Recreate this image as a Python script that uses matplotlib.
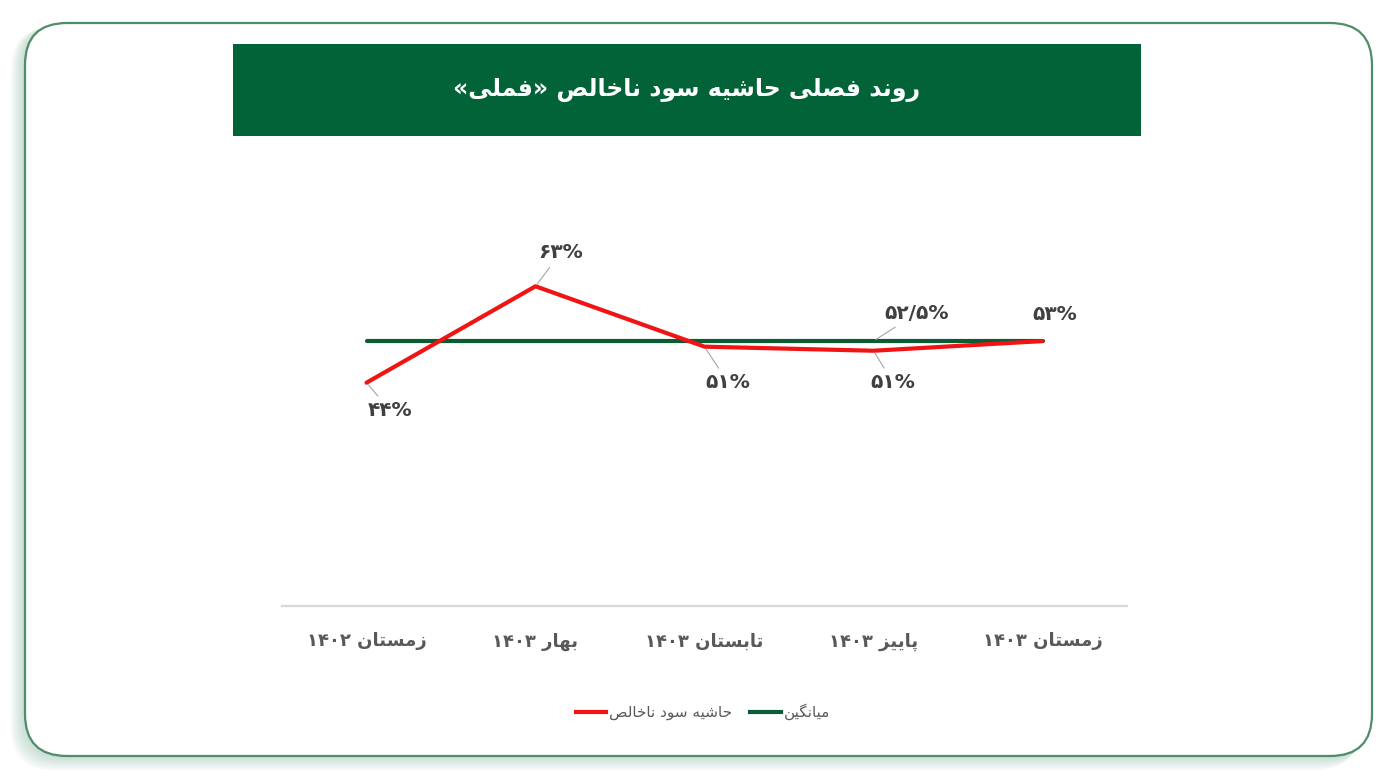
import re
import matplotlib
matplotlib.use("Agg")
import matplotlib.pyplot as plt
from matplotlib.patches import FancyBboxPatch, Rectangle
from matplotlib.lines import Line2D

# ---------------- data ----------------
categories = ["زمستان ۱۴۰۲", "بهار ۱۴۰۳", "تابستان ۱۴۰۳", "پاییز ۱۴۰۳", "زمستان ۱۴۰۳"]
margin_values = [44.0, 63.0, 51.1, 50.3, 52.2]
margin_labels = ["۴۴%", "۶۳%", "۵۱%", "۵۱%", "۵۳%"]
average_values = [52.2, 52.2, 52.2, 52.2, 52.2]
average_label = "۵۲/۵%"
average_label_index = 3
title_text = "روند فصلی حاشیه سود ناخالص «فملی»"
series_names = ["حاشیه سود ناخالص", "میانگین"]

# ---------------- minimal Persian shaping / bidi ----------------
FORMS = {
    'ا': ('\uFE8D', '\uFE8E', None, None),
    'ب': ('\uFE8F', '\uFE90', '\uFE91', '\uFE92'),
    'پ': ('\uFB56', '\uFB57', '\uFB58', '\uFB59'),
    'ت': ('\uFE95', '\uFE96', '\uFE97', '\uFE98'),
    'ث': ('\uFE99', '\uFE9A', '\uFE9B', '\uFE9C'),
    'ج': ('\uFE9D', '\uFE9E', '\uFE9F', '\uFEA0'),
    'چ': ('\uFB7A', '\uFB7B', '\uFB7C', '\uFB7D'),
    'ح': ('\uFEA1', '\uFEA2', '\uFEA3', '\uFEA4'),
    'خ': ('\uFEA5', '\uFEA6', '\uFEA7', '\uFEA8'),
    'د': ('\uFEA9', '\uFEAA', None, None),
    'ذ': ('\uFEAB', '\uFEAC', None, None),
    'ر': ('\uFEAD', '\uFEAE', None, None),
    'ز': ('\uFEAF', '\uFEB0', None, None),
    'ژ': ('\uFB8A', '\uFB8B', None, None),
    'س': ('\uFEB1', '\uFEB2', '\uFEB3', '\uFEB4'),
    'ش': ('\uFEB5', '\uFEB6', '\uFEB7', '\uFEB8'),
    'ص': ('\uFEB9', '\uFEBA', '\uFEBB', '\uFEBC'),
    'ض': ('\uFEBD', '\uFEBE', '\uFEBF', '\uFEC0'),
    'ط': ('\uFEC1', '\uFEC2', '\uFEC3', '\uFEC4'),
    'ظ': ('\uFEC5', '\uFEC6', '\uFEC7', '\uFEC8'),
    'ع': ('\uFEC9', '\uFECA', '\uFECB', '\uFECC'),
    'غ': ('\uFECD', '\uFECE', '\uFECF', '\uFED0'),
    'ف': ('\uFED1', '\uFED2', '\uFED3', '\uFED4'),
    'ق': ('\uFED5', '\uFED6', '\uFED7', '\uFED8'),
    'ک': ('\uFB8E', '\uFB8F', '\uFB90', '\uFB91'),
    'گ': ('\uFB92', '\uFB93', '\uFB94', '\uFB95'),
    'ل': ('\uFEDD', '\uFEDE', '\uFEDF', '\uFEE0'),
    'م': ('\uFEE1', '\uFEE2', '\uFEE3', '\uFEE4'),
    'ن': ('\uFEE5', '\uFEE6', '\uFEE7', '\uFEE8'),
    'و': ('\uFEED', '\uFEEE', None, None),
    'ه': ('\uFEE9', '\uFEEA', '\uFEEB', '\uFEEC'),
    'ی': ('\uFBFC', '\uFBFD', '\uFBFE', '\uFBFF'),
}
MIRROR = {'«': '»', '»': '«', '(': ')', ')': '('}


def shape_word(w):
    out = []
    n = len(w)
    for i, c in enumerate(w):
        if c not in FORMS:
            out.append(c)
            continue
        prev = w[i - 1] if i > 0 else None
        nxt = w[i + 1] if i < n - 1 else None
        jp = prev in FORMS and FORMS[prev][2] is not None
        jn = FORMS[c][2] is not None and nxt in FORMS
        iso, fin, ini, med = FORMS[c]
        if jp and jn:
            out.append(med)
        elif jp:
            out.append(fin)
        elif jn:
            out.append(ini)
        else:
            out.append(iso)
    return ''.join(out)


def rtl(s):
    runs = []
    i = 0
    while i < len(s):
        c = s[i]
        if c in FORMS:
            j = i
            while j < len(s) and s[j] in FORMS:
                j += 1
            runs.append(shape_word(s[i:j])[::-1])
            i = j
        elif re.match(r'[0-9\u06F0-\u06F9%/.]', c):
            j = i
            while j < len(s) and re.match(r'[0-9\u06F0-\u06F9%/.]', s[j]):
                j += 1
            runs.append(s[i:j])
            i = j
        else:
            runs.append(MIRROR.get(c, c))
            i += 1
    return ''.join(runs[::-1])


plt.rcParams['font.family'] = ['DejaVu Sans']

W, H = 1400, 781
fig = plt.figure(figsize=(W / 100, H / 100), dpi=100)
fig.patch.set_facecolor('white')

# ---------------- background frame ----------------
bg = fig.add_axes([0, 0, 1, 1])
bg.set_xlim(0, W)
bg.set_ylim(H, 0)
bg.axis('off')

for k in range(16, 0, -1):
    sh = FancyBboxPatch((25 - k * 0.9, 23 + k * 0.3), 1347, 733 + k * 0.6,
                        boxstyle="round,pad=0,rounding_size=42",
                        facecolor='#86bba6', edgecolor='none', alpha=0.03,
                        transform=bg.transData, zorder=1)
    bg.add_patch(sh)

frame = FancyBboxPatch((25, 23), 1347, 733,
                       boxstyle="round,pad=0,rounding_size=42",
                       facecolor='white', edgecolor='#4f8d69', linewidth=1.6,
                       transform=bg.transData, zorder=2)
bg.add_patch(frame)

banner = Rectangle((233, 44), 908, 92, facecolor='#036338', edgecolor='none', zorder=3)
bg.add_patch(banner)
bg.text(687, 90, rtl(title_text), color='white', fontsize=17, fontweight='bold',
        ha='center', va='center', zorder=4)

# ---------------- chart ----------------
ax = fig.add_axes([282 / W, 1 - 606 / H, (1127 - 282) / W, (606 - 200) / H])
ax.set_facecolor('none')
x = list(range(len(categories)))
red = '#f01414'
green = '#0b5c32'
ax.plot(x, average_values, color=green, lw=3, solid_capstyle='round', zorder=3)
ax.plot(x, margin_values, color=red, lw=3, solid_capstyle='round', zorder=4)
ax.set_xlim(-0.5, len(categories) - 0.5)
ax.set_ylim(0, 80)
ax.set_yticks([])
for s in ['top', 'right', 'left']:
    ax.spines[s].set_visible(False)
ax.spines['bottom'].set_color('#d9d9d9')
ax.spines['bottom'].set_linewidth(1.6)
ax.set_xticks(x)
ax.set_xticklabels([rtl(c) for c in categories], fontsize=13, fontweight='bold', color='#595959')
ax.tick_params(axis='x', length=0, pad=19)

lab_color = '#404040'
offsets = [(17, -20), (18, 24), (17, -26), (14, -23), (9, 19)]
leaders = [True, True, True, True, False]
for i, (v, lab) in enumerate(zip(margin_values, margin_labels)):
    ax.annotate(lab, xy=(x[i], v), xytext=offsets[i], textcoords='offset points',
                ha='center', va='center', fontsize=14.5, fontweight='bold', color=lab_color,
                arrowprops=dict(arrowstyle='-', color='#a6a6a6', lw=0.8, shrinkA=2, shrinkB=2)
                if leaders[i] else None, zorder=5)
ai = average_label_index
ax.annotate(average_label, xy=(x[ai], average_values[ai]), xytext=(31, 20),
            textcoords='offset points', ha='center', va='center', fontsize=14.5,
            fontweight='bold', color=lab_color,
            arrowprops=dict(arrowstyle='-', color='#a6a6a6', lw=0.8, shrinkA=2, shrinkB=2),
            zorder=5)

handles = [Line2D([], [], color=red, lw=3), Line2D([], [], color=green, lw=3)]
fig.legend(handles, [rtl(n) for n in series_names], loc='center',
           bbox_to_anchor=(703 / W, 1 - 712 / H), ncol=2, frameon=False,
           fontsize=11, handlelength=2.0, handletextpad=0.2, columnspacing=1.2,
           labelcolor='#595959')

fig.savefig('out.png', dpi=100)
